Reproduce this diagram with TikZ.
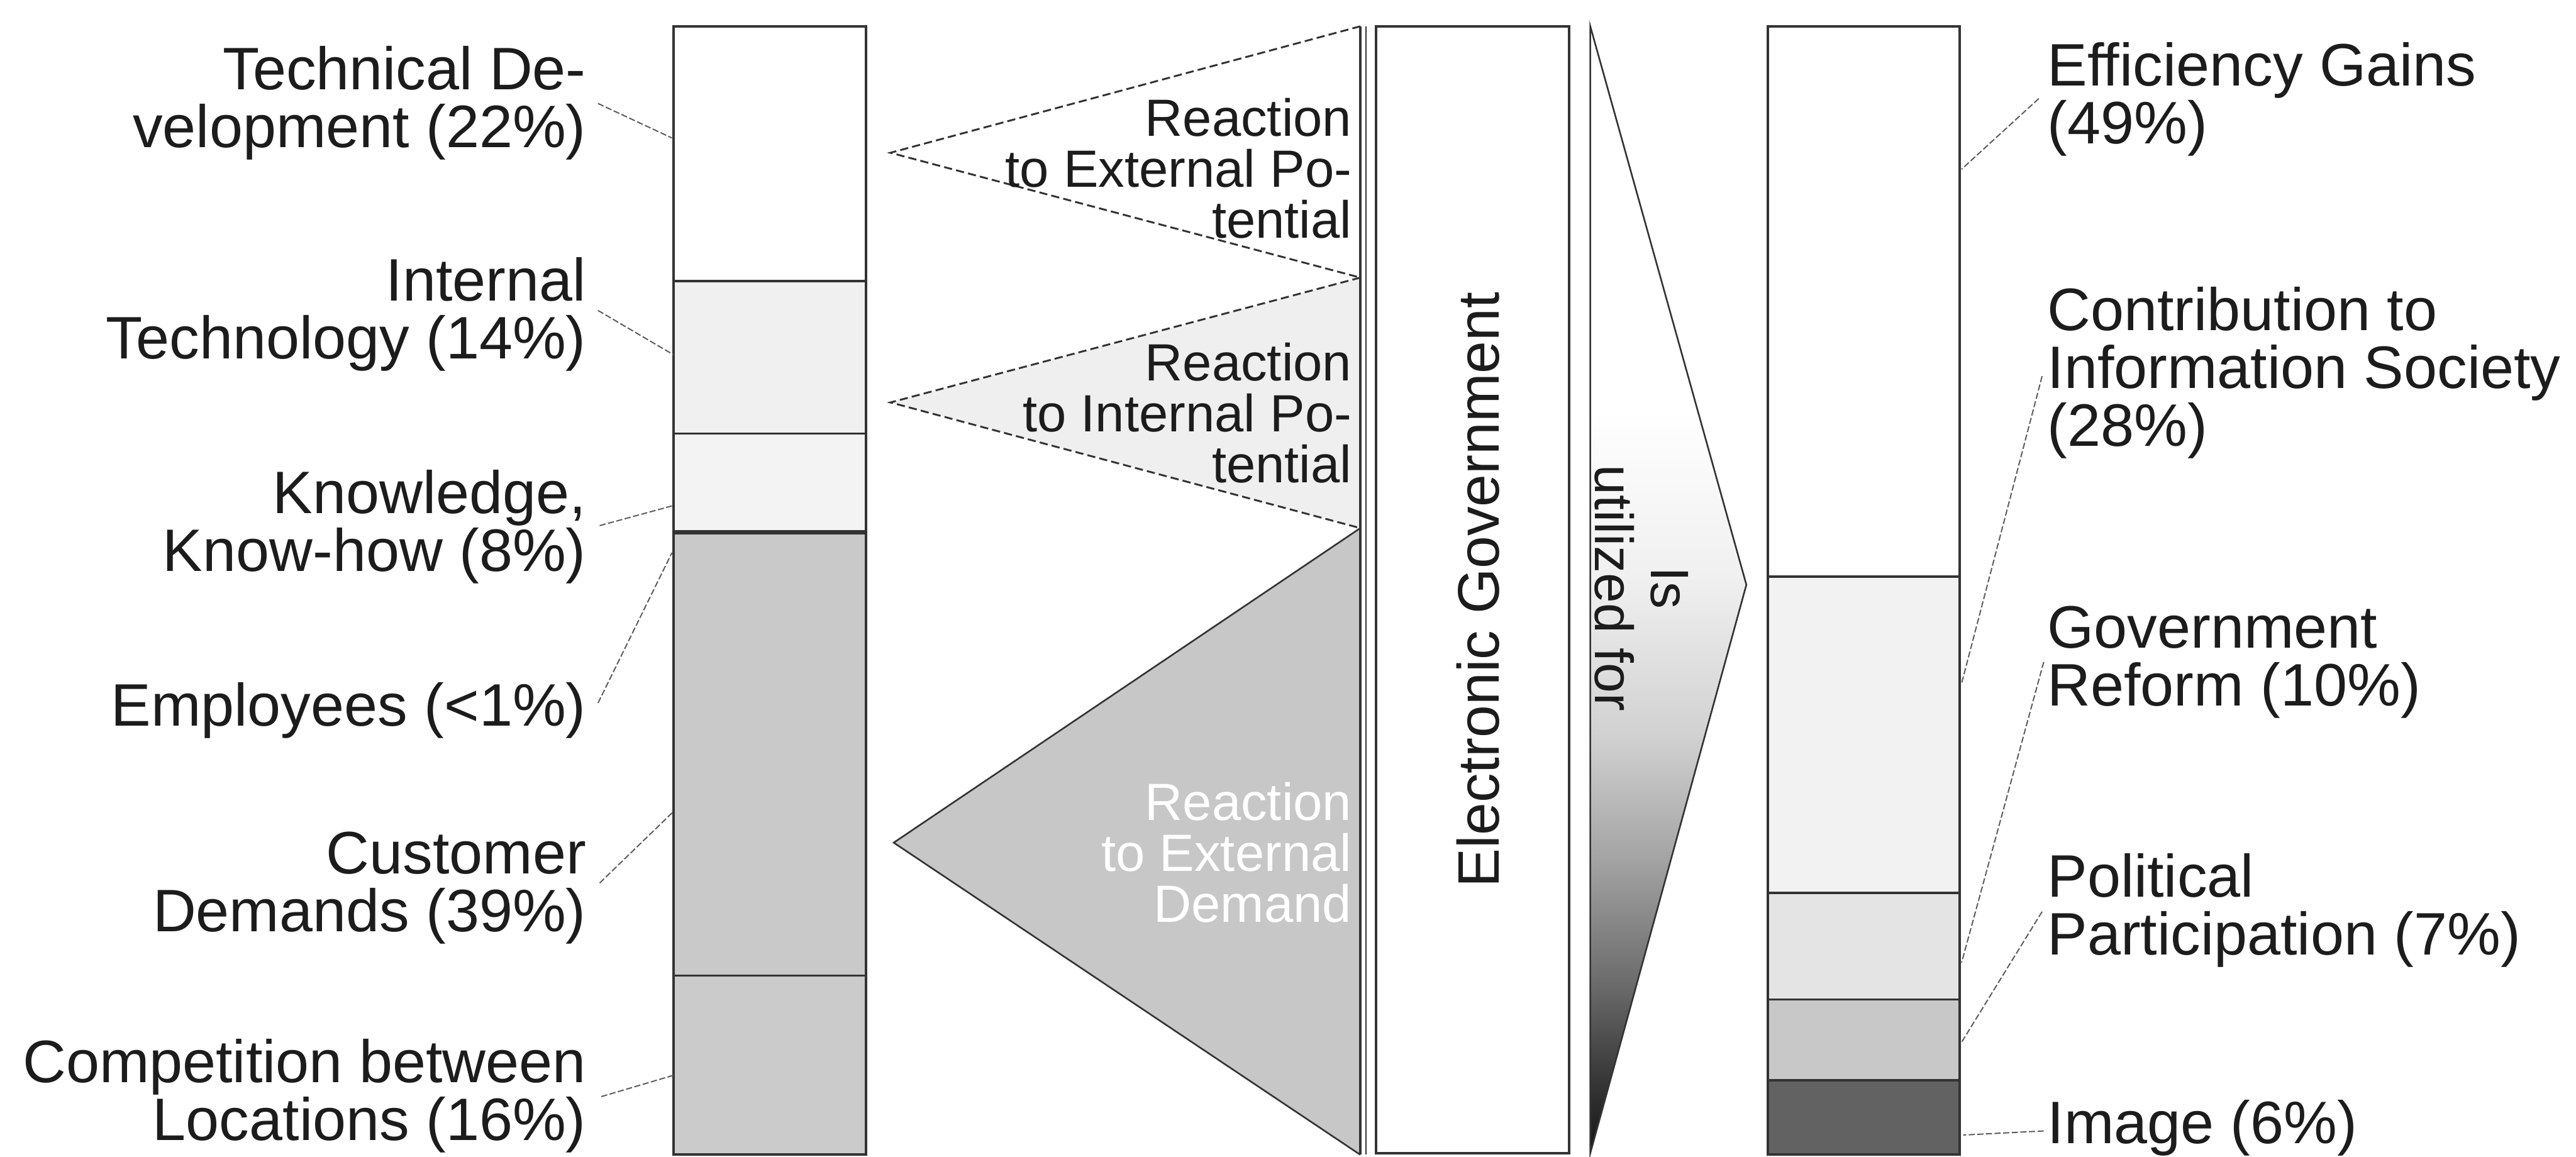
\documentclass[tikz,border=0pt]{standalone}
\usepackage{fontspec}
\setmainfont{Liberation Sans}

\definecolor{ink}{HTML}{333333}
\definecolor{leadc}{HTML}{5A5A5A}
\definecolor{txt}{HTML}{1C1C1C}
\definecolor{segTwo}{HTML}{F0F0F0}
\definecolor{segThree}{HTML}{F3F3F3}
\definecolor{segFour}{HTML}{C9C9C9}
\definecolor{segFive}{HTML}{CBCBCB}
\definecolor{useTwo}{HTML}{F2F2F2}
\definecolor{useThree}{HTML}{E4E4E4}
\definecolor{useFour}{HTML}{C8C8C8}
\definecolor{useFive}{HTML}{626262}
\definecolor{triTwo}{HTML}{EFEFEF}
\definecolor{triThree}{HTML}{C7C7C7}

% type sizes (picture unit = 0.8pt)
\newcommand\sidefont{\fontsize{29.2pt}{28.2pt}\selectfont}
\newcommand\trifont{\fontsize{25.5pt}{24.8pt}\selectfont}
\newcommand\wedgefont{\fontsize{26.3pt}{27.2pt}\selectfont}
\newcommand\egfont{\fontsize{28.5pt}{30pt}\selectfont}

% stacked lines whose baseline is the first line
\newcommand\rlines[1]{{\def\\{\cr}\vtop{\halign{\hfil##\cr#1\crcr}}}}
\newcommand\llines[1]{{\def\\{\cr}\vtop{\halign{##\hfil\cr#1\crcr}}}}
\newcommand\clines[1]{{\def\\{\cr}\vtop{\halign{\hfil##\hfil\cr#1\crcr}}}}

% white at the top, darkening towards the bottom
\pgfdeclareverticalshading{wedgeshade}{100bp}{color(0bp)=(black!92); color(25bp)=(black!92); color(29bp)=(black!75); color(32.5bp)=(black!58); color(38bp)=(black!36); color(43.5bp)=(black!18); color(50.5bp)=(black!6); color(58bp)=(white); color(100bp)=(white)}

\begin{document}
\begin{tikzpicture}[x=0.8pt,y=-0.8pt,
  outline/.style={draw=ink,line width=1.2pt},
  divider/.style={draw=ink,line width=1.1pt},
  leader/.style={draw=leadc,line width=0.6pt,dash pattern=on 3pt off 1.2pt},
  tridash/.style={draw=ink,line width=0.9pt,dash pattern=on 4pt off 2pt},
  sidelabel/.style={inner sep=0pt,font=\sidefont,text=txt},
  trilabel/.style={inner sep=0pt,font=\trifont,anchor=base east,text=txt},
]
\useasboundingbox[fill=white] (0,0) rectangle (1568,704);

% ---------- left bar: triggers ----------
\fill[white]     (410,16)  rectangle (527,171);
\fill[segTwo]    (410,171) rectangle (527,264);
\fill[segThree]  (410,264) rectangle (527,324);
\fill[segFour]   (410,324) rectangle (527,594);
\fill[segFive]   (410,594) rectangle (527,703);
\foreach \yy in {171,264,594} \draw[divider] (410,\yy) -- (527,\yy);
\draw[divider,line width=2pt] (410,324) -- (527,324);
\draw[outline] (410,16) rectangle (527,703);

% ---------- reaction triangles ----------
\fill[white] (828,16) -- (542,93) -- (828,169) -- cycle;
\draw[tridash] (828,16) -- (542,93) -- (828,169);
\fill[triTwo] (828,169) -- (542,245) -- (828,321.5) -- cycle;
\draw[tridash] (828,169) -- (542,245) -- (828,321.5);
\fill[triThree] (828,321.5) -- (544,513) -- (828,703) -- cycle;
\draw[ink,line width=0.8pt] (828,321.5) -- (544,513) -- (828,703);
\draw[ink,line width=1pt] (828,16) -- (828,703);
\draw[ink,line width=0.8pt] (831.5,16) -- (831.5,703);

\node[trilabel] (reactA) at (823,83) {\rlines{Reaction\\to External Po-\\tential}};
\node[trilabel] (reactB) at (823,231.7) {\rlines{Reaction\\to Internal Po-\\tential}};
\node[trilabel,text=white] (reactC) at (823,499.4) {\rlines{Reaction\\to External\\Demand}};

% ---------- electronic government ----------
\draw[outline,fill=white] (837.5,16) rectangle (955,702);
\node[inner sep=0pt,font=\egfont,text=txt,rotate=90] (egov) at (899.5,359) {Electronic Government};

% ---------- utilisation wedge ----------
\shadedraw[shading=wedgeshade,draw=ink,line width=0.8pt] (968,16) -- (1063,356) -- (968,702) -- cycle;
\node[inner sep=0pt,font=\wedgefont,text=txt,rotate=-90,anchor=base] (usedfor) at (1005,358) {\clines{Is\\utilized for}};

% ---------- right bar: uses ----------
\fill[white]     (1076,16)    rectangle (1193,351);
\fill[useTwo]    (1076,351)   rectangle (1193,543.5);
\fill[useThree]  (1076,543.5) rectangle (1193,608.5);
\fill[useFour]   (1076,608.5) rectangle (1193,657.7);
\fill[useFive]   (1076,657.7) rectangle (1193,703);
\foreach \yy in {351,543.5,608.5,657.7} \draw[divider] (1076,\yy) -- (1193,\yy);
\draw[outline] (1076,16) rectangle (1193,703);

% ---------- left labels ----------
\node[sidelabel,anchor=base east] (techdev) at (357,54.5) {\rlines{Technical De-\\velopment (22\%)}};
\node[sidelabel,anchor=base east] (inttech) at (357,183) {\rlines{Internal\\Technology (14\%)}};
\node[sidelabel,anchor=base east] (knowhow) at (357,312.4) {\rlines{Knowledge,\\Know-how (8\%)}};
\node[sidelabel,anchor=base east] (employ) at (357,442) {Employees (<1\%)};
\node[sidelabel,anchor=base east] (custdem) at (357,532) {\rlines{Customer\\Demands (39\%)}};
\node[sidelabel,anchor=base east] (compet) at (357,659) {\rlines{Competition between\\Locations (16\%)}};

\coordinate (techdevL) at (364,63);    \coordinate (techdevB) at (409,84);
\coordinate (inttechL) at (364,189);   \coordinate (inttechB) at (410,216);
\coordinate (knowhowL) at (365,320);   \coordinate (knowhowB) at (409,308);
\coordinate (employL)  at (364,428);   \coordinate (employB)  at (409,336.5);
\coordinate (custdemL) at (365,537.6); \coordinate (custdemB) at (410,494);
\coordinate (competL)  at (366,667.6); \coordinate (competB)  at (410,654.6);
\foreach \k in {techdev,inttech,knowhow,employ,custdem,compet}
  \draw[leader] (\k L) -- (\k B);

% ---------- right labels ----------
\node[sidelabel,anchor=base west] (effic) at (1246,52.3) {\llines{Efficiency Gains\\(49\%)}};
\node[sidelabel,anchor=base west] (infosoc) at (1246,201) {\llines{Contribution to\\Information Society\\(28\%)}};
\node[sidelabel,anchor=base west] (reform) at (1246,394.6) {\llines{Government\\Reform (10\%)}};
\node[sidelabel,anchor=base west] (partic) at (1246,546) {\llines{Political\\Participation (7\%)}};
\node[sidelabel,anchor=base west] (image) at (1246,696) {Image (6\%)};

\coordinate (efficL)   at (1241,60);    \coordinate (efficB)   at (1194,103);
\coordinate (infosocL) at (1243,229);   \coordinate (infosocB) at (1194,416);
\coordinate (reformL)  at (1244,403);   \coordinate (reformB)  at (1194,586);
\coordinate (particL)  at (1243,555);   \coordinate (particB)  at (1194,634.5);
\coordinate (imageL)   at (1244,688.5); \coordinate (imageB)   at (1195,691);
\foreach \k in {effic,infosoc,reform,partic,image}
  \draw[leader] (\k L) -- (\k B);
\end{tikzpicture}
\end{document}
